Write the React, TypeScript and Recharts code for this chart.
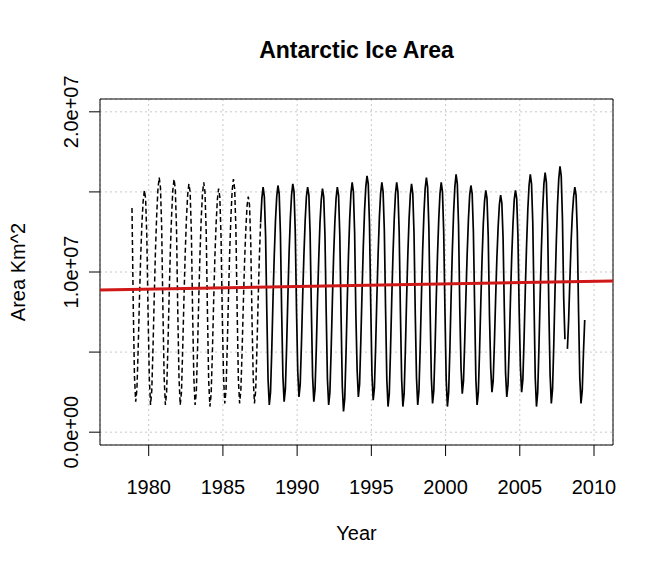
import React from 'react'
import {
  LineChart,
  Line,
  XAxis,
  YAxis,
  CartesianGrid,
  ReferenceLine,
  ReferenceArea,
} from 'recharts'

const FONT = '"Liberation Sans", Arial, sans-serif'

// monthly mean sea-ice area (million km^2), one row per year, Jan..Dec
const firstYear = 1978
const areaByYear: (number | null)[][] = [
  [null, null, null, null, null, null, null, null, null, null, 14.0, 8.0],
  [3.5, 1.9, 2.7, 5.2, 8.2, 10.9, 13.0, 14.4, 15.1, 14.6, 12.2, 7.4],
  [3.4, 1.7, 2.6, 5.3, 8.5, 11.4, 13.6, 15.2, 15.9, 15.3, 12.8, 7.7],
  [3.4, 1.7, 2.5, 5.2, 8.4, 11.3, 13.5, 15.1, 15.8, 15.2, 12.7, 7.6],
  [3.4, 1.7, 2.5, 5.2, 8.3, 11.1, 13.3, 14.8, 15.5, 15.0, 12.5, 7.5],
  [3.4, 1.7, 2.5, 5.2, 8.4, 11.2, 13.4, 14.9, 15.6, 15.0, 12.5, 7.5],
  [3.2, 1.6, 2.4, 5.0, 8.1, 10.9, 13.0, 14.5, 15.2, 14.7, 12.2, 7.3],
  [3.5, 1.8, 2.6, 5.3, 8.5, 11.3, 13.5, 15.1, 15.8, 15.2, 12.7, 7.7],
  [3.3, 1.8, 2.6, 5.0, 8.0, 10.6, 12.6, 14.1, 14.7, 14.2, 11.9, 7.2],
  [3.4, 1.8, 2.6, 5.2, 8.3, 11.0, 13.1, 14.6, 15.3, 14.7, 12.3, 7.5],
  [3.3, 1.7, 2.5, 5.1, 8.3, 11.0, 13.2, 14.7, 15.4, 14.9, 12.4, 7.5],
  [3.5, 1.9, 2.7, 5.3, 8.4, 11.2, 13.3, 14.8, 15.5, 15.0, 12.5, 7.6],
  [3.8, 2.2, 3.0, 5.5, 8.5, 11.1, 13.2, 14.7, 15.3, 14.8, 12.4, 7.7],
  [3.5, 1.9, 2.7, 5.2, 8.3, 10.9, 13.1, 14.5, 15.2, 14.7, 12.3, 7.5],
  [3.3, 1.7, 2.5, 5.1, 8.2, 11.0, 13.1, 14.6, 15.3, 14.8, 12.3, 7.4],
  [2.9, 1.3, 2.1, 4.8, 8.1, 11.0, 13.3, 14.9, 15.6, 15.0, 12.4, 7.3],
  [3.9, 2.2, 3.0, 5.7, 8.8, 11.6, 13.8, 15.3, 16.0, 15.5, 13.0, 8.0],
  [3.6, 2.0, 2.8, 5.4, 8.5, 11.2, 13.4, 14.9, 15.6, 15.0, 12.6, 7.7],
  [3.3, 1.6, 2.4, 5.1, 8.3, 11.1, 13.3, 14.9, 15.6, 15.0, 12.5, 7.5],
  [3.3, 1.6, 2.4, 5.1, 8.3, 11.1, 13.3, 14.8, 15.5, 14.9, 12.4, 7.4],
  [3.4, 1.7, 2.6, 5.3, 8.5, 11.4, 13.6, 15.2, 15.9, 15.3, 12.8, 7.7],
  [3.4, 1.8, 2.6, 5.2, 8.4, 11.1, 13.3, 14.9, 15.6, 15.0, 12.5, 7.6],
  [3.3, 1.6, 2.5, 5.2, 8.5, 11.4, 13.7, 15.3, 16.1, 15.5, 12.9, 7.7],
  [4.0, 2.4, 3.2, 5.7, 8.6, 11.2, 13.3, 14.8, 15.4, 14.9, 12.5, 7.9],
  [3.3, 1.7, 2.5, 5.1, 8.1, 10.8, 13.0, 14.4, 15.1, 14.6, 12.2, 7.3],
  [4.0, 2.5, 3.2, 5.6, 8.4, 10.9, 12.8, 14.2, 14.8, 14.3, 12.1, 7.7],
  [3.7, 2.2, 3.0, 5.4, 8.4, 11.0, 13.0, 14.5, 15.1, 14.6, 12.3, 7.6],
  [4.1, 2.5, 3.3, 5.9, 9.0, 11.7, 13.9, 15.4, 16.1, 15.5, 13.1, 8.2],
  [3.4, 1.6, 2.5, 5.3, 8.6, 11.5, 13.9, 15.5, 16.2, 15.6, 13.0, 7.7],
  [3.6, 1.8, 2.7, 5.5, 8.9, 11.8, 14.2, 15.8, 16.6, 16.0, 13.3, 8.4],
  [5.8, null, 5.2, 7.0, 9.5, 11.9, 13.6, 14.7, 15.3, 14.8, 12.5, 7.6],
  [3.4, 1.8, 2.6, 5.0, 7.0, null, null, null, null, null, null, null],
]

// last month of the early (dashed) record: July 1987
const earlyEnd = { year: 1987, month: 6 }

const xTicks = [1980, 1985, 1990, 1995, 2000, 2005, 2010]
const yTicks = [0, 5e6, 1e7, 1.5e7, 2e7]
const yLabelled = [0, 1e7, 2e7]

// axis ranges, and the fitted linear trend (million km^2) at both ends of x
const xRange: [number, number] = [1976.72, 2011.28]
const yRange: [number, number] = [-0.8e6, 20.8e6]
const trendEnds = [8.88, 9.44]

const rows = areaByYear.flatMap((months, i) =>
  months.map((v, m) => {
    const year = firstYear + i
    const km2 = v == null ? null : v * 1e6
    const key = year * 12 + m
    const cut = earlyEnd.year * 12 + earlyEnd.month
    return {
      t: year + (m + 0.5) / 12,
      early: key <= cut ? km2 : null,
      late: key >= cut ? km2 : null,
    }
  })
)

// R-style scientific labels: 1.0e+07
const sci = (v: number) =>
  v.toExponential(1).replace(/e([+-])(\d)$/, (_s, sign, d) => `e${sign}0${d}`)

const XTick = ({ x, y, payload }: any) => (
  <text x={x} y={y + 36} textAnchor="middle" fontSize={20} fontFamily={FONT} fill="#000">
    {payload.value}
  </text>
)

const YTick = ({ x, y, payload }: any) =>
  yLabelled.includes(payload.value) ? (
    <text
      transform={`translate(${x - 9},${y}) rotate(-90)`}
      textAnchor="middle"
      fontSize={20}
      fontFamily={FONT}
      fill="#000"
    >
      {sci(payload.value)}
    </text>
  ) : (
    <g />
  )

const XTitle = ({ viewBox }: any) => (
  <text
    x={viewBox.x + viewBox.width / 2}
    y={viewBox.y + 95}
    textAnchor="middle"
    fontSize={20}
    fontFamily={FONT}
    fill="#000"
  >
    Year
  </text>
)

const YTitle = ({ viewBox }: any) => (
  <text
    transform={`translate(17,${viewBox.y + viewBox.height / 2}) rotate(-90)`}
    textAnchor="middle"
    fontSize={20}
    fontFamily={FONT}
    fill="#000"
  >
    Area Km^2
  </text>
)

export default function App() {
  return (
    <div style={{ position: 'relative', width: 649, height: 555, background: '#fff' }}>
      <div
        style={{
          position: 'absolute',
          left: 92,
          width: 513,
          top: 31,
          textAlign: 'center',
          fontFamily: FONT,
          fontWeight: 'bold',
          fontSize: 23,
          lineHeight: '23px',
        }}
      >
        Antarctic Ice Area
      </div>
      <LineChart
        width={649}
        height={555}
        data={rows}
        margin={{ top: 91, right: 44, bottom: 0, left: 0 }}
      >
        <CartesianGrid stroke="#c8c8c8" strokeDasharray="2 3" />
        <XAxis
          type="number"
          dataKey="t"
          domain={xRange}
          ticks={xTicks}
          allowDataOverflow
          height={118}
          axisLine={false}
          tickSize={11}
          tickMargin={2}
          tickLine={{ stroke: '#000' }}
          tick={<XTick />}
          label={<XTitle />}
          interval={0}
        />
        <YAxis
          type="number"
          domain={yRange}
          ticks={yTicks}
          allowDataOverflow
          width={92}
          axisLine={false}
          tickSize={11}
          tickMargin={2}
          tickLine={{ stroke: '#000' }}
          tick={<YTick />}
          label={<YTitle />}
          interval={0}
        />
        <Line
          dataKey="early"
          type="linear"
          stroke="#000"
          strokeWidth={1.5}
          strokeDasharray="5 3"
          dot={false}
          connectNulls={false}
          isAnimationActive={false}
        />
        <Line
          dataKey="late"
          type="linear"
          stroke="#000"
          strokeWidth={1.7}
          dot={false}
          connectNulls={false}
          isAnimationActive={false}
        />
        <ReferenceLine
          segment={[
            { x: xRange[0], y: trendEnds[0] * 1e6 },
            { x: xRange[1], y: trendEnds[1] * 1e6 },
          ]}
          stroke="#d01818"
          strokeWidth={3}
          ifOverflow="visible"
        />
        <ReferenceArea
          x1={xRange[0]}
          x2={xRange[1]}
          y1={yRange[0]}
          y2={yRange[1]}
          fill="none"
          stroke="#000"
          strokeWidth={1}
          ifOverflow="visible"
        />
      </LineChart>
    </div>
  )
}
